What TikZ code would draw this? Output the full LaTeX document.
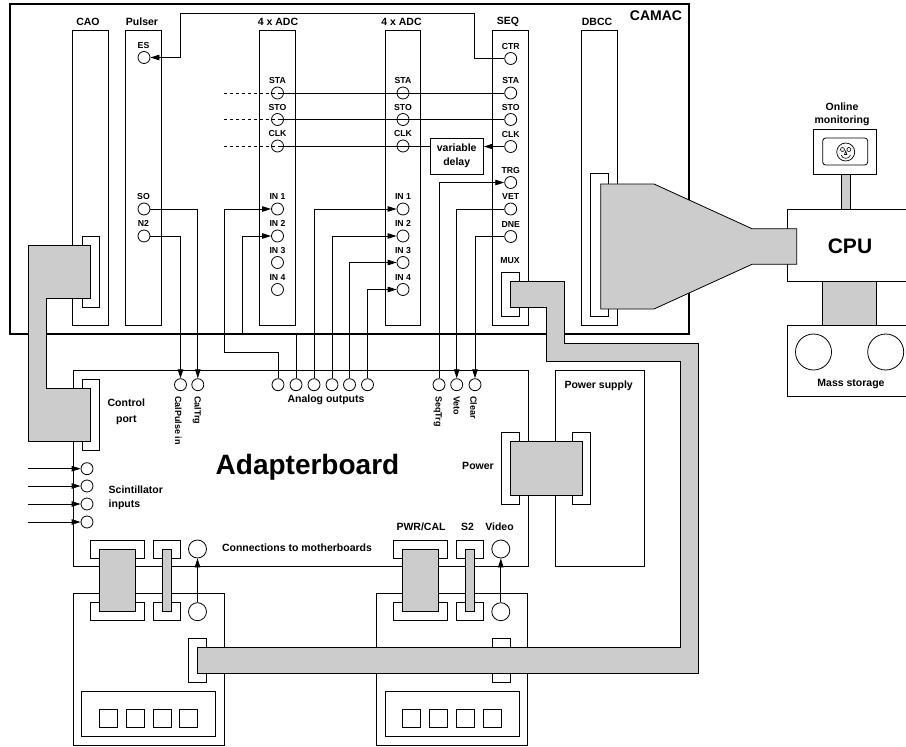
\documentclass[tikz,border=0pt]{standalone}
\usepackage{fontspec}
\setmainfont{Liberation Sans}
\usepackage{xcolor}
\usetikzlibrary{calc,arrows.meta,positioning}
\definecolor{cabc}{HTML}{CCCCCC}
\tikzset{
  ar/.style={-{Triangle[length=9pt,width=5.5pt]}},
  wire/.style={line width=.8pt},
  box/.style={draw,line width=.8pt,inner sep=0pt},
  pinc/.style={circle,draw,line width=.8pt,minimum size=12pt,inner sep=0pt},
  bigc/.style={circle,draw,line width=.8pt,minimum size=18pt,inner sep=0pt},
  cab/.style={draw,fill=cabc,line width=.8pt,inner sep=0pt},
  lab/.style={font=\fontsize{8.7}{10}\selectfont\bfseries,inner sep=0pt},
  txt/.style={font=\fontsize{10.5}{14.5}\selectfont\bfseries,inner sep=0pt,align=center},
  rot/.style={font=\fontsize{9}{10}\selectfont\bfseries,inner sep=0pt,rotate=-90,anchor=west}
}
\begin{document}
\begin{tikzpicture}[x=1pt,y=-1pt]
\useasboundingbox (0,0) rectangle (906,747);
\node[box,line width=2pt,minimum width=679pt,minimum height=330pt] (camac) at (349.5,169) {};
\node[font=\fontsize{14}{16}\selectfont\bfseries,inner sep=0pt] (camacl) at (656,16) {CAMAC};
\foreach \nm/\xc/\xl/\lb in {cao/90.5/88/CAO,puls/143.5/142/Pulser,adca/277.5/278/4 x ADC,adcb/402.7/401.5/4 x ADC,seq/510.5/508/SEQ,dbcc/599.5/597/DBCC}{
 \node[box,minimum width=35.5pt,minimum height=294.5pt] (\nm) at (\xc,178) {};
 \node[txt] (\nm l) at (\xl,22) {\lb};}
\node[box,minimum width=17.5pt,minimum height=71pt] (caoc) at (90.7,271.5) {};
\node[box,minimum width=18pt,minimum height=44pt] (muxc) at (510.5,294) {};
\node[box,minimum width=18pt,minimum height=142.5pt] (dbcc2) at (599.5,245) {};
\node[lab] (muxl) at (510,260.7) {MUX};
\foreach \nm/\xp in {a/277.5,b/403}{
 \foreach \pn/\yp/\lb in {sta/93/STA,sto/119.5/STO,clk/146/CLK,ina/209/IN 1,inb/236/IN 2,inc/262.5/IN 3,ind/289.5/IN 4}{
  \node[pinc] (\nm\pn) at (\xp,\yp) {};
  \node[lab] (\nm\pn l) at (\xp,\yp-12.3) {\lb};}}
\foreach \pn/\yp/\lb in {ctr/58.5/CTR,sta/93/STA,sto/119.5/STO,clk/146.5/CLK,trg/182.5/TRG,vet/209/VET,dne/236.5/DNE}{
 \node[pinc] (s\pn) at (510.7,\yp) {};
 \node[lab] (s\pn l) at (510.7,\yp-12.3) {\lb};}
\foreach \pn/\yp/\lb in {es/57.5/ES,so/209/SO,nb/236/N2}{
 \node[pinc] (p\pn) at (144,\yp) {};
 \node[lab] (p\pn l) at (143.5,\yp-12.3) {\lb};}
\node[box,minimum width=53.5pt,minimum height=36pt] (vdel) at (456.7,156) {};
\node[txt] (vdell) at (456.7,156) {variable\\delay};
\node[box,minimum width=455.3pt,minimum height=196.7pt] (adapt) at (300.65,468.35) {};
\node[font=\fontsize{28}{30}\selectfont\bfseries,inner sep=0pt] (adaptl) at (307.5,467) {Adapterboard};
\node[box,minimum width=89.3pt,minimum height=196.7pt] (psu) at (599.65,468.35) {};
\node[txt] (psul) at (598.7,385.5) {Power supply};
\node[txt] (powl) at (478,466) {Power};
\node[box,minimum width=18pt,minimum height=71.3pt] (powa) at (510.4,468.35) {};
\node[box,minimum width=18pt,minimum height=71.3pt] (powb) at (581.7,468.35) {};
\node[cab,minimum width=71.5pt,minimum height=53.5pt] (powc) at (546.25,468.25) {};
\node[box,minimum width=17.5pt,minimum height=71pt] (ctlc) at (90.7,414.5) {};
\node[txt,font=\fontsize{10.5}{15.5}\selectfont\bfseries] (ctll) at (126.3,411.7) {Control\\port};
\foreach \nm/\xp in {calp/180.5,calt/197.8,seqt/439,veto/456.7,clr/475}{
 \node[pinc] (\nm) at (\xp,384.7) {};}
\node[rot] (calpl) at (178.3,396) {CalPulse in};
\node[rot] (caltl) at (197,396) {CalTrg};
\node[rot] (seqtl) at (437.7,396) {SeqTrg};
\node[rot] (vetol) at (456.7,396) {Veto};
\node[rot] (clrl) at (473.7,396) {Clear};
\foreach \i/\xp in {1/278,2/296,3/314,4/332,5/349.5,6/367.5}{
 \node[pinc] (out\i) at (\xp,384.7) {};}
\node[txt] (outl) at (326,399.5) {Analog outputs};
\foreach \i/\yp in {1/468.7,2/486,3/504,4/522}{
 \node[pinc] (sci\i) at (87,\yp) {};
 \coordinate (sin\i) at (28,\yp);
 \draw[wire,ar] (sin\i) -- (sci\i.west);}
\node[txt,align=left,anchor=west] (scil) at (108.5,498) {Scintillator\\inputs};
\node[txt] (mbl) at (297,548) {Connections to motherboards};
\node[txt] (pwrl) at (421,527) {PWR/CAL};
\node[txt] (stwol) at (467.5,527) {S2};
\node[txt] (vidl) at (499.5,527) {Video};
\foreach \nm/\ox in {a/0,b/303.3}{
 \begin{scope}[xshift=\ox pt]
 \node[box,minimum width=151.5pt,minimum height=151.7pt] (mb\nm) at (148.75,669.15) {};
 \node[box,minimum width=54pt,minimum height=18pt] (pca\nm) at (117.5,549) {};
 \node[box,minimum width=26.5pt,minimum height=18pt] (sca\nm) at (166.75,549) {};
 \node[bigc] (via\nm) at (197.5,549) {};
 \node[box,minimum width=54pt,minimum height=18pt] (pcb\nm) at (117.5,611.2) {};
 \node[box,minimum width=26.5pt,minimum height=18pt] (scb\nm) at (166.75,611.2) {};
 \node[bigc] (vib\nm) at (197.5,611.7) {};
 \node[box,minimum width=18pt,minimum height=44.7pt] (mxc\nm) at (197.7,660.35) {};
 \node[box,minimum width=134pt,minimum height=44.8pt] (dsp\nm) at (148.7,714.1) {};
 \foreach \j/\xp in {1/108.5,2/135.3,3/162.2,4/188.8}{
  \node[box,minimum size=18pt] (sq\nm\j) at (\xp,718.5) {};}
 \node[cab,minimum width=36pt,minimum height=62.5pt] (pgr\nm) at (117.5,580.2) {};
 \node[cab,minimum width=8.7pt,minimum height=62.5pt] (sgr\nm) at (166.75,580.2) {};
 \draw[wire,ar] (vib\nm) -- (via\nm);
 \end{scope}}
\foreach \n in {sta,sto}{
 \coordinate (d\n) at (224,0 |- a\n);
 \draw[wire,dashed] (d\n) -- (a\n.center);
 \draw[wire] (a\n.center) -- (s\n.west);}
\coordinate (dclk) at (224,146);
\draw[wire,dashed] (dclk) -- (aclk.center);
\draw[wire] (aclk.center) -- (aclk -| vdel.west);
\draw[wire,ar] (sclk.west) -- (sclk -| vdel.east);
\coordinate (esa) at (474.5,13);
\coordinate (esb) at (180,13);
\draw[wire,ar] (sctr.west) -| (esa) -- (esb) |- (pes.east);
\draw[wire,ar] (pso.east) -| (calt.north);
\draw[wire,ar] (pnb.east) -| (calp.north);
\coordinate (ana) at (224.5,352.3);
\coordinate (anb) at (242.3,334);
\draw[wire,ar] (out1.north) |- (ana) |- (aina.west);
\draw[wire,ar] (out2.north) |- (anb) |- (ainb.west);
\draw[wire,ar] (out3.north) |- (bina.west);
\draw[wire,ar] (out4.north) |- (binb.west);
\draw[wire,ar] (out5.north) |- (binc.west);
\draw[wire,ar] (out6.north) |- (bind.west);
\draw[wire,ar] (seqt.north) |- (strg.west);
\draw[wire,ar] (svet.west) -| (veto.north);
\draw[wire,ar] (sdne.west) -| (clr.north);
\node[box,minimum width=123pt,minimum height=71.5pt] (cpu) at (848.5,245.25) {};
\draw[cab] (28,245) -- (90.5,245) -- (90.5,298) -- (46,298) -- (46,388) -- (90.5,388) -- (90.5,441) -- (28,441) -- cycle;
\draw[cab] (510.5,281) -- (564,281) -- (564,343) -- (698,343) -- (698,673) -- (197.5,673) -- (197.5,647) -- (680.3,647) -- (680.3,361) -- (546.3,361) -- (546.3,307.5) -- (510.5,307.5) -- cycle;
\draw[cab] (600.7,184) -- (654,184) -- (752,228.7) -- (796.7,228.7) -- (796.7,264.3) -- (752,264.3) -- (654,309) -- (600.7,309) -- cycle;
\node[font=\fontsize{21}{24}\selectfont\bfseries,inner sep=0pt] (cpul) at (850,246) {CPU};
\node[box,minimum width=123pt,minimum height=71pt] (store) at (848.5,360.5) {};
\node[cab,minimum width=53.7pt,minimum height=44pt] (bus) at (849.55,303) {};
\node[circle,draw,line width=.8pt,minimum size=36pt,inner sep=0pt] (diska) at (813.5,352) {};
\node[circle,draw,line width=.8pt,minimum size=36pt,inner sep=0pt] (diskb) at (885.7,352) {};
\node[txt] (storel) at (851,384) {Mass storage};
\node[box,minimum width=63pt,minimum height=45pt] (mon) at (845.2,151.5) {};
\node[box,rounded corners=3pt,minimum width=45pt,minimum height=27pt] (scrn) at (845.2,151.5) {};
\node[cab,minimum width=9pt,minimum height=35.5pt] (monc) at (845.5,191.7) {};
\node[txt,font=\fontsize{10.5}{13}\selectfont\bfseries] (monl) at (842,114.5) {Online\\monitoring};
\node[circle,draw,line width=.7pt,minimum size=18pt,inner sep=0pt] (face) at (845.7,152) {};
\draw[line width=.6pt] (842.5,149.5) circle (2pt) (848.9,149.5) circle (2pt);
\draw[line width=.6pt] (845.7,151) -- (844.5,154.5) -- (846.9,154.5) -- cycle;
\draw[line width=.6pt] (841,155) .. controls (843,159.5) and (848.5,159.5) .. (850.5,155);
\end{tikzpicture}
\end{document}
